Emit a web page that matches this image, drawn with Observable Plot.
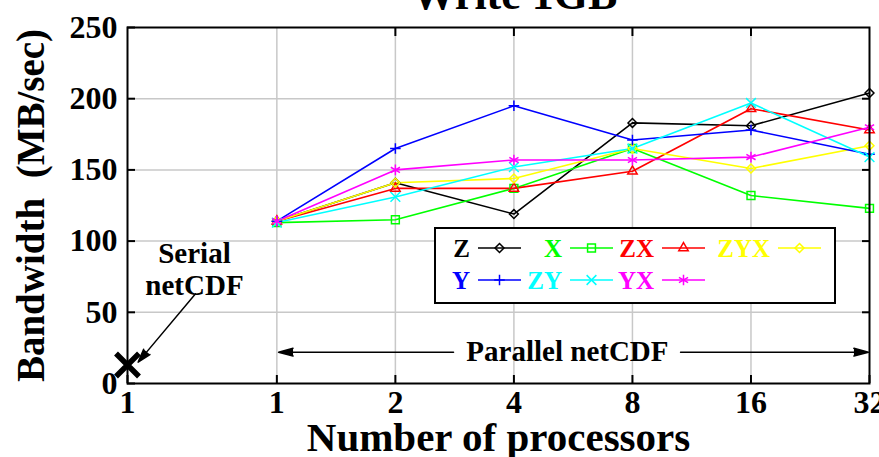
<!DOCTYPE html>
<html><head><meta charset="utf-8">
<script src="https://cdn.jsdelivr.net/npm/d3@7"></script>
<script src="https://cdn.jsdelivr.net/npm/@observablehq/plot@0.6"></script>
<style>body{margin:0;background:#fff;}</style>
</head><body><div id="chart"></div>
<script>
// ---- data ----
const processors = [1, 2, 4, 8, 16, 32];
const seriesNames = ["Z", "X", "ZX", "ZYX", "Y", "ZY", "YX"];
const bwZ   = [114, 141, 119, 183, 181, 204];
const bwX   = [113, 115, 137, 165, 132, 123];
const bwZX  = [114, 137, 137, 149, 193, 178];
const bwZYX = [114, 141, 144, 165, 151, 167];
const bwY   = [114, 165, 195, 171, 178, 161];
const bwZY  = [113, 131, 152, 165, 197, 159];
const bwYX  = [114, 150, 157, 157, 159, 180];
const serialBandwidth = 13;
const yTicks = [0, 50, 100, 150, 200, 250];
const serialTickLabel = "1";

// ---- styles ----
const seriesValues = [bwZ, bwX, bwZX, bwZYX, bwY, bwZY, bwYX];
const colors = ["#000000", "#00ff00", "#ff0000", "#ffff00", "#0000ff", "#00ffff", "#ff00ff"];
const symbols = ["diamond2", "square2", "triangle2", "diamond2", "plus", "times", "asterisk"];
const radii = [4, 5, 4.5, 4, 3.5, 4.5, 5];
const serialPos = 2 ** -1.26; // layout position of the serial run on the x axis
const FONT = "'Liberation Serif', 'Times New Roman', serif";

const rows = seriesNames.flatMap((s, i) =>
  processors.map((p, j) => ({series: s, procs: p, bw: seriesValues[i][j]})));

const chart = Plot.plot({
  width: 879, height: 457,
  marginLeft: 127, marginRight: 10, marginTop: 27, marginBottom: 74,
  style: {fontFamily: FONT, fontWeight: "bold", fontSize: "32px", background: "white", overflow: "visible"},
  x: {type: "log", base: 2, domain: [serialPos, 32]},
  y: {domain: [0, 250]},
  color: {domain: seriesNames, range: colors},
  marks: [
    Plot.gridX(processors.slice(0, 5), {stroke: "#c8c8c8", strokeOpacity: 1, strokeWidth: 1.5}),
    Plot.gridY(yTicks.slice(1, 5), {stroke: "#c8c8c8", strokeOpacity: 1, strokeWidth: 1.5}),
    Plot.line(rows, {x: "procs", y: "bw", z: "series", stroke: "series", strokeWidth: 1.6}),
    ...seriesNames.map((s, i) => Plot.dot(rows.filter(d => d.series === s), {
      x: "procs", y: "bw", symbol: symbols[i], r: radii[i], stroke: colors[i], fill: "none", strokeWidth: 1.5
    })),
    Plot.dot([{procs: serialPos, bw: serialBandwidth}], {x: "procs", y: "bw", symbol: "times", r: 10.5, stroke: "black", strokeWidth: 5.5}),
    Plot.frame({stroke: "black", strokeWidth: 2}),
    Plot.axisY(yTicks, {tickSize: -8, tickPadding: 18, strokeWidth: 2, label: null}),
    Plot.axisY(yTicks.slice(1, 5), {anchor: "right", tickSize: -8, strokeWidth: 2, tickFormat: () => "", label: null}),
    Plot.axisX([serialPos, ...processors], {tickSize: -8, tickPadding: 15, strokeWidth: 2, label: null,
      tickFormat: d => d === serialPos ? serialTickLabel : String(d)}),
    Plot.axisX(processors.slice(1, 5), {anchor: "top", tickSize: -8, strokeWidth: 2, tickFormat: () => "", label: null}),
    // titles
    Plot.text(["Write 1GB"], {frameAnchor: "top", lineAnchor: "top", dx: 16, dy: -50, fontSize: 44}),
    Plot.text(["Bandwidth\u00a0 (MB/sec)"], {frameAnchor: "left", textAnchor: "middle", lineAnchor: "middle", rotate: -90, dx: -96, fontSize: 39}),
    Plot.text(["Number of processors"], {frameAnchor: "bottom", lineAnchor: "middle", dy: 54, fontSize: 41}),
    // annotations
    Plot.text([{x: 2 ** -0.695, y: 80.5, t: "Serial\nnetCDF"}], {x: "x", y: "y", text: "t", fontSize: 29, lineHeight: 1.12}),
    Plot.arrow([{x1: 2 ** -0.686, y1: 63, x2: 2 ** -1.17, y2: 15}], {x1: "x1", y1: "y1", x2: "x2", y2: "y2",
      stroke: "black", fill: "black", strokeWidth: 1.5, headLength: 14, headAngle: 34}),
    Plot.arrow([{x1: 2.81, x2: 1.01, y: 22}, {x1: 10.6, x2: 31.8, y: 22}], {x1: "x1", x2: "x2", y1: "y", y2: "y",
      stroke: "black", fill: "black", strokeWidth: 1.5, headLength: 15, headAngle: 30}),
    Plot.text([{x: 5.47, y: 22, t: "Parallel netCDF"}], {x: "x", y: "y", text: "t", fontSize: 29})
  ]
});
document.getElementById("chart").appendChild(chart);

// ---- legend (inside the plot area) ----
const svg = d3.select(chart);
const lg = svg.append("g").attr("font-family", FONT).attr("font-weight", "bold").attr("font-size", 25);
lg.append("rect").attr("x", 435).attr("y", 228).attr("width", 400).attr("height", 75)
  .attr("fill", "white").attr("stroke", "black").attr("stroke-width", 2);
const textEnds = [470, 562, 654, 770];
const rowY = [248, 280];
const d3sym = {diamond2: d3.symbolDiamond2, square2: d3.symbolSquare2, triangle2: d3.symbolTriangle2,
  plus: d3.symbolPlus, times: d3.symbolTimes, asterisk: d3.symbolAsterisk};
seriesNames.forEach((s, i) => {
  const col = i < 4 ? i : i - 4, row = i < 4 ? 0 : 1;
  const tx = textEnds[col], y = rowY[row];
  lg.append("text").attr("x", tx).attr("y", y).attr("dy", "0.34em").attr("text-anchor", "end")
    .attr("fill", colors[i]).text(s);
  const lx1 = tx + 8, lx2 = tx + 51;
  lg.append("line").attr("x1", lx1).attr("x2", lx2).attr("y1", y).attr("y2", y)
    .attr("stroke", colors[i]).attr("stroke-width", 1.6);
  lg.append("path").attr("transform", `translate(${(lx1 + lx2) / 2},${y})`)
    .attr("d", d3.symbol(d3sym[symbols[i]], Math.PI * radii[i] * radii[i])())
    .attr("fill", "none").attr("stroke", colors[i]).attr("stroke-width", 1.5);
});
</script>
</body></html>
